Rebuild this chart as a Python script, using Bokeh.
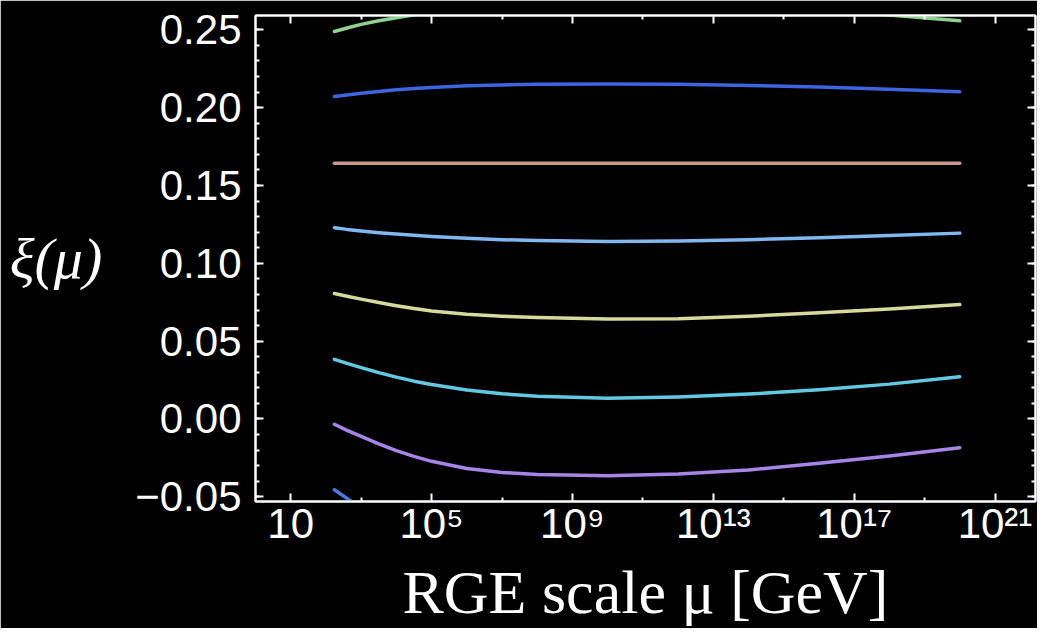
from bokeh.plotting import figure
from bokeh.models import (LogAxis, LinearAxis, FixedTicker, CustomJSTickFormatter,
                          Range1d)
from bokeh.embed import file_html
from bokeh.resources import INLINE

# ---- data ----
log_mu = [2.24, 2.6, 3, 3.5, 4, 4.5, 5, 6, 7, 8, 10, 12, 14, 16, 18, 20]
mu = [10.0 ** v for v in log_mu]

xi_green     = [0.2489, 0.2512, 0.2535, 0.2558, 0.2578, 0.2597, 0.2612, 0.2633, 0.2648, 0.2658, 0.2668, 0.2665, 0.2648, 0.2625, 0.2595, 0.2558]
xi_blue      = [0.2071, 0.2082, 0.2092, 0.2104, 0.2115, 0.2123, 0.2130, 0.2140, 0.2146, 0.2150, 0.2152, 0.2150, 0.2143, 0.2132, 0.2118, 0.2102]
xi_tan       = [0.1643] * 16
xi_lightblue = [0.1229, 0.1218, 0.1208, 0.1197, 0.1188, 0.1180, 0.1173, 0.1161, 0.1152, 0.1146, 0.1141, 0.1143, 0.1152, 0.1164, 0.1178, 0.1194]
xi_khaki     = [0.0806, 0.0788, 0.0770, 0.0748, 0.0728, 0.0710, 0.0694, 0.0673, 0.0660, 0.0652, 0.0642, 0.0644, 0.0660, 0.0682, 0.0706, 0.0735]
xi_cyan      = [0.0383, 0.0357, 0.0330, 0.0298, 0.0269, 0.0243, 0.0221, 0.0186, 0.0162, 0.0146, 0.0133, 0.0142, 0.0160, 0.0188, 0.0224, 0.0272]
xi_purple    = [-0.0034, -0.0073, -0.0112, -0.0160, -0.0203, -0.0240, -0.0272, -0.0318, -0.0343, -0.0357, -0.0365, -0.0354, -0.0327, -0.0285, -0.0237, -0.0184]
xi_darkblue  = [-0.0455, -0.0510, -0.0570, -0.0640, -0.0705, -0.0760, -0.0810, -0.0880, -0.0930, -0.0965, -0.1000, -0.0990, -0.0950, -0.0890, -0.0810, -0.0710]

series = [
    (xi_green, "#8fd18f"),
    (xi_blue, "#3f64e0"),
    (xi_tan, "#c49c84"),
    (xi_lightblue, "#80b8f2"),
    (xi_khaki, "#d6da9c"),
    (xi_cyan, "#63c9e2"),
    (xi_purple, "#a684e8"),
    (xi_darkblue, "#4a7ae0"),
]

x_major = [1e1, 1e5, 1e9, 1e13, 1e17, 1e21]
x_minor = [1e3, 1e7, 1e11, 1e15, 1e19]
y_major = [-0.05, 0.0, 0.05, 0.10, 0.15, 0.20, 0.25]
y_minor = [round(-0.05 + 0.01 * k, 2) for k in range(31)]

p = figure(width=1037, height=628, x_axis_type="log",
           x_range=Range1d(1.0, 10.0 ** 22.15), y_range=Range1d(-0.053, 0.2592),
           output_backend="svg", toolbar_location=None,
           min_border_left=255, min_border_right=2, min_border_top=15, min_border_bottom=126)

p.background_fill_color = "black"
p.border_fill_color = "black"
p.outline_line_color = "white"
p.outline_line_width = 2
p.xgrid.visible = False
p.ygrid.visible = False

for ys, col in series:
    p.line(mu, ys, line_color=col, line_width=3.5, line_join="round", line_cap="round")

xfmt = CustomJSTickFormatter(code="""
const e = Math.round(Math.log10(tick));
const sup = {'0':'\u2070','1':'\u00b9','2':'\u00b2','3':'\u00b3','4':'\u2074','5':'\u2075','6':'\u2076','7':'\u2077','8':'\u2078','9':'\u2079'};
if (e == 1) return '10';
return '10' + String(e).split('').map(c => sup[c]).join('');
""")
yfmt = CustomJSTickFormatter(code="""
const v = Math.abs(tick) < 1e-9 ? 0 : tick;
return (v < 0 ? '\u2212' : '') + Math.abs(v).toFixed(2);
""")
blank = CustomJSTickFormatter(code="return '';")

def style(ax):
    ax.axis_line_color = "white"
    ax.axis_line_width = 2
    ax.major_tick_line_color = "white"
    ax.major_tick_line_width = 2
    ax.minor_tick_line_color = "white"
    ax.minor_tick_line_width = 2
    ax.major_tick_in = 8
    ax.major_tick_out = 0
    ax.minor_tick_in = 4
    ax.minor_tick_out = 0
    ax.major_label_text_color = "white"
    ax.major_label_text_font = "Liberation Sans"
    ax.major_label_text_font_size = "42px"
    ax.axis_label_text_color = "white"
    ax.axis_label_text_font = "Liberation Serif"
    ax.axis_label_text_font_style = "normal"

xa = p.xaxis[0]
xa.ticker = FixedTicker(ticks=x_major, minor_ticks=x_minor)
xa.formatter = xfmt
style(xa)
xa.major_label_standoff = -2
xa.axis_label = "RGE scale \u03bc [GeV]"
xa.axis_label_text_font_size = "62px"
xa.axis_label_standoff = 8

ya = p.yaxis[0]
ya.ticker = FixedTicker(ticks=y_major, minor_ticks=y_minor)
ya.formatter = yfmt
style(ya)
ya.major_label_standoff = 14
ya.axis_label = "\u03be(\u03bc)"
ya.axis_label_text_font_size = "58px"
ya.axis_label_text_font_style = "italic"
ya.axis_label_orientation = "horizontal"
ya.axis_label_standoff = 30

top = LogAxis(ticker=FixedTicker(ticks=x_major, minor_ticks=x_minor), formatter=blank)
style(top)
top.major_label_text_font_size = "1px"
top.major_label_standoff = 0
p.add_layout(top, "above")

right = LinearAxis(ticker=FixedTicker(ticks=y_major, minor_ticks=y_minor), formatter=blank)
style(right)
right.major_label_text_font_size = "1px"
right.major_label_standoff = 0
p.add_layout(right, "right")

open("out.html", "w").write(file_html(p, INLINE))
